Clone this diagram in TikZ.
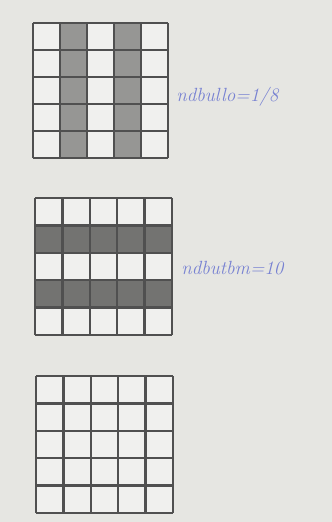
\documentclass[tikz,border=0pt]{standalone}
\usepackage{xcolor}
\usepackage{tikz}
\usetikzlibrary{positioning}

\definecolor{paper}{RGB}{230,230,226}
\definecolor{cellbg}{RGB}{240,240,238}
\definecolor{gridline}{RGB}{80,80,80}
\definecolor{colshade}{RGB}{150,150,148}
\definecolor{rowshade}{RGB}{115,115,113}
\definecolor{pen}{RGB}{120,130,210}

\begin{document}
\begin{tikzpicture}[
  x=0.0265cm, y=-0.0265cm,
  gline/.style={draw=gridline, line width=1.7pt},
  note/.style={text=pen, font=\itshape\Large, anchor=west, inner sep=0pt}]
\useasboundingbox[fill=paper] (0,0) rectangle (332,522);
% grid 1: columns 2 and 4 shaded
\fill[cellbg] (33,23) rectangle ++(135,135);
\foreach \c in {1,3}
  \fill[colshade] (33+\c*27,23) rectangle ++(27,135);
\foreach \i in {0,...,5} {
  \draw[gline] (33+\i*27,23) -- ++(0,135);
  \draw[gline] (33,23+\i*27) -- ++(135,0);
}
% grid 2: rows 2 and 4 shaded
\fill[cellbg] (35,198) rectangle ++(137,137);
\foreach \r in {1,3}
  \fill[rowshade] (35,198+\r*27.4) rectangle ++(137,27.4);
\foreach \i in {0,...,5} {
  \draw[gline] (35+\i*27.4,198) -- ++(0,137);
  \draw[gline] (35,198+\i*27.4) -- ++(137,0);
}
% grid 3: empty
\fill[cellbg] (36,376) rectangle ++(137,137);
\foreach \i in {0,...,5} {
  \draw[gline] (36+\i*27.4,376) -- ++(0,137);
  \draw[gline] (36,376+\i*27.4) -- ++(137,0);
}
% handwritten notes
\node[note] (noteA) at (176,97) {ndbullo=1/8};
\node[note] (noteB) at (181,268) {ndbutbm=10};
\end{tikzpicture}
\end{document}
